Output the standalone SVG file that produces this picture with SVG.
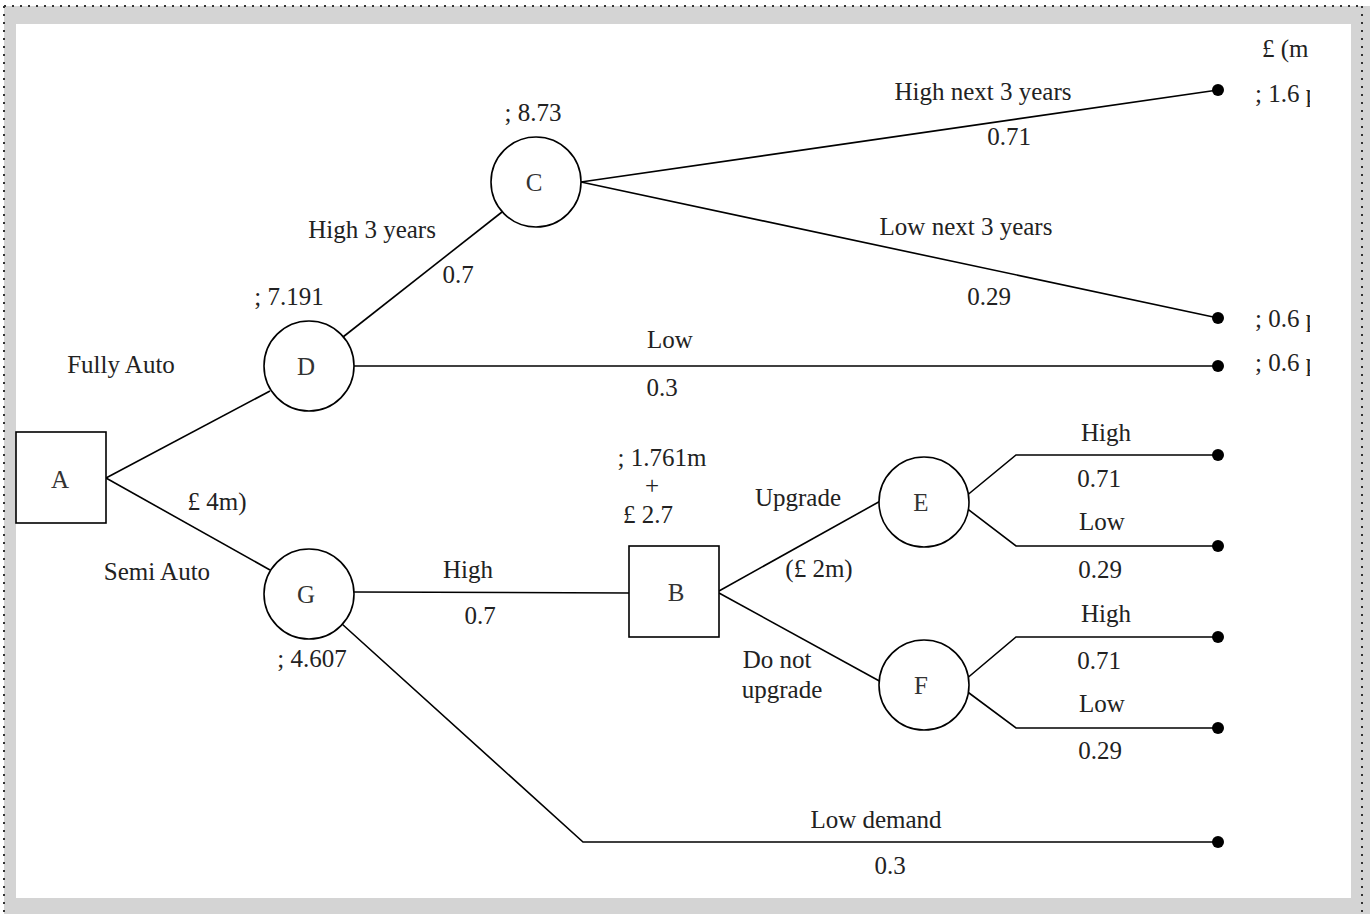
<svg xmlns="http://www.w3.org/2000/svg" width="1370" height="914" viewBox="0 0 1370 914">
  <style>
    text { font-family: "Liberation Serif", "Times New Roman", serif; font-size: 25px; fill: #222; text-anchor: middle; }
    .start { text-anchor: start; }
    .letter { fill: #333; }
    .edge { fill: none; stroke: #000; stroke-width: 1.6; }
    .node { fill: #fff; stroke: #000; stroke-width: 1.6; }
    .dot { fill: #000; }
    .frame { fill: none; stroke: #333; stroke-width: 2; stroke-dasharray: 2 6; }
  </style>
  <defs>
    <clipPath id="rightClip"><rect x="1230" y="0" width="80" height="914"/></clipPath>
  </defs>

  <!-- page frame -->
  <rect x="4" y="6" width="1366" height="908" fill="#d4d4d4"/>
  <rect x="16" y="24" width="1335" height="874" fill="#fff"/>
  <path class="frame" d="M4 6 H1362 M4 6 V914 M1362 6 V914"/>

  <!-- connectors -->
  <g id="connectors">
    <path class="edge" d="M106 478 L270 391"/>
    <path class="edge" d="M106 478 L270 570"/>
    <path class="edge" d="M343 337 L502 212"/>
    <path class="edge" d="M354 366 H1218"/>
    <path class="edge" d="M581 182 L1218 90"/>
    <path class="edge" d="M581 182 L1218 318"/>
    <path class="edge" d="M354 592 L629 593"/>
    <path class="edge" d="M342 624 L583 842 H1218"/>
    <path class="edge" d="M719 591 L884 499"/>
    <path class="edge" d="M719 593 L883 683"/>
    <path class="edge" d="M965 497 L1016 455 H1218"/>
    <path class="edge" d="M965 507 L1016 546 H1218"/>
    <path class="edge" d="M965 680 L1016 637 H1218"/>
    <path class="edge" d="M965 690 L1016 728 H1218"/>
    <circle class="dot" cx="1218" cy="90" r="6"/>
    <circle class="dot" cx="1218" cy="318" r="6"/>
    <circle class="dot" cx="1218" cy="366" r="6"/>
    <circle class="dot" cx="1218" cy="455" r="6"/>
    <circle class="dot" cx="1218" cy="546" r="6"/>
    <circle class="dot" cx="1218" cy="637" r="6"/>
    <circle class="dot" cx="1218" cy="728" r="6"/>
    <circle class="dot" cx="1218" cy="842" r="6"/>
  </g>

  <!-- nodes -->
  <g id="node-A"><rect class="node" x="16" y="432" width="90" height="91"/><text class="letter" x="60" y="488">A</text></g>
  <g id="node-D"><circle class="node" cx="309" cy="366" r="45"/><text class="letter" x="306" y="375">D</text></g>
  <g id="node-C"><circle class="node" cx="536" cy="182" r="45"/><text class="letter" x="534" y="191">C</text></g>
  <g id="node-G"><circle class="node" cx="309" cy="594" r="45"/><text class="letter" x="306" y="603">G</text></g>
  <g id="node-B"><rect class="node" x="629" y="546" width="90" height="91"/><text class="letter" x="676" y="601">B</text></g>
  <g id="node-E"><circle class="node" cx="924" cy="502" r="45"/><text class="letter" x="921" y="511">E</text></g>
  <g id="node-F"><circle class="node" cx="924" cy="685" r="45"/><text class="letter" x="921" y="694">F</text></g>

  <!-- payoff column -->
  <g id="payoffs" clip-path="url(#rightClip)">
    <text class="start" x="1262" y="57">£ (m</text>
    <text class="start" x="1255" y="102">; 1.6 p</text>
    <text class="start" x="1255" y="327">; 0.6 p</text>
    <text class="start" x="1255" y="371">; 0.6 p</text>
  </g>

  <!-- branch labels -->
  <g id="labels">
    <text x="983" y="100">High next 3 years</text>
    <text x="1009" y="145">0.71</text>
    <text x="966" y="235">Low next 3 years</text>
    <text x="989" y="305">0.29</text>
    <text x="533" y="121">; 8.73</text>
    <text x="372" y="238">High 3 years</text>
    <text x="458" y="283">0.7</text>
    <text x="289" y="305">; 7.191</text>
    <text x="121" y="373">Fully Auto</text>
    <text x="670" y="348">Low</text>
    <text x="662" y="396">0.3</text>
    <text x="217" y="510">£ 4m)</text>
    <text x="157" y="580">Semi Auto</text>
    <text x="468" y="578">High</text>
    <text x="480" y="624">0.7</text>
    <text x="312" y="667">; 4.607</text>
    <text x="662" y="466">; 1.761m</text>
    <text x="652" y="494">+</text>
    <text x="648" y="523">£ 2.7</text>
    <text x="798" y="506">Upgrade</text>
    <text x="819" y="577">(£ 2m)</text>
    <text x="777" y="668">Do not</text>
    <text x="782" y="698">upgrade</text>
    <text x="1106" y="441">High</text>
    <text x="1099" y="487">0.71</text>
    <text x="1102" y="530">Low</text>
    <text x="1100" y="578">0.29</text>
    <text x="1106" y="622">High</text>
    <text x="1099" y="669">0.71</text>
    <text x="1102" y="712">Low</text>
    <text x="1100" y="759">0.29</text>
    <text x="876" y="828">Low demand</text>
    <text x="890" y="874">0.3</text>
  </g>
</svg>
